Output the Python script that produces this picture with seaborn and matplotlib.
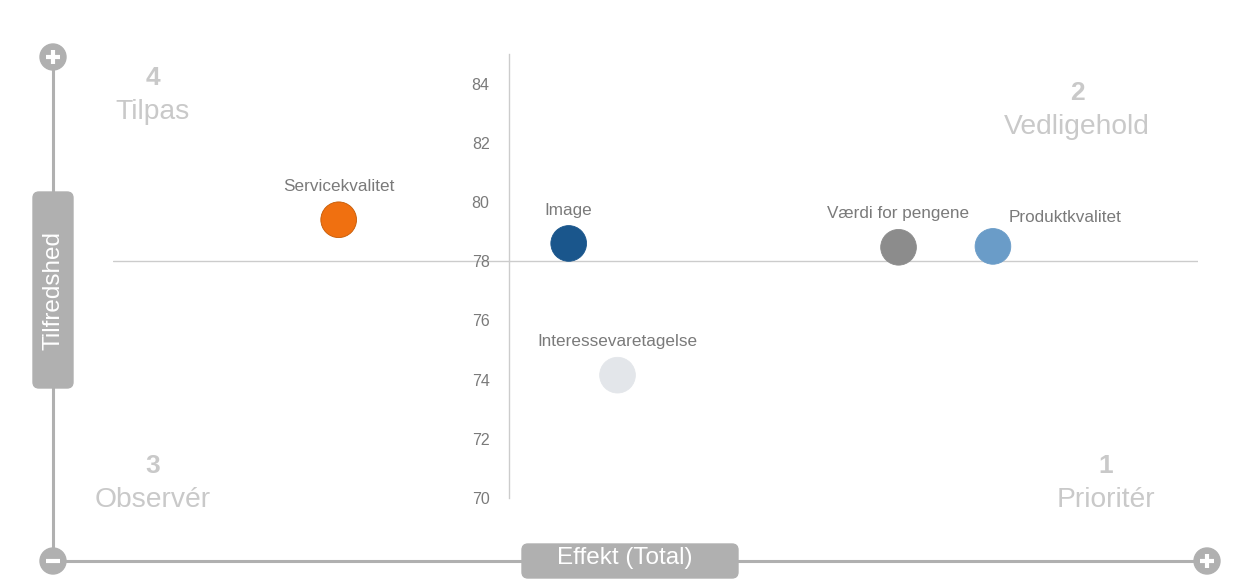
#!/usr/bin/env python3

import pandas
import seaborn as sns
import matplotlib.pyplot as plt
from matplotlib.patches import FancyBboxPatch, Circle

# Drivers, effect (arbitrary scale) and satisfaction
drivers = ["Servicekvalitet", "Image", "Interessevaretagelse", "Værdi for pengene", "Produktkvalitet"]
effect = [2.08, 4.20, 4.65, 7.24, 8.11]
satisfaction = [79.4, 78.6, 74.15, 78.47, 78.5]
colors = ["#f07010", "#1a568c", "#e3e6ea", "#8c8c8c", "#6a9cc8"]

# Quadrant cross point and axis ranges
effect_cross = 3.65
satisfaction_cross = 78
effect_range = (0, 10)
satisfaction_range = (70, 85)
yticks = [70, 72, 74, 76, 78, 80, 82, 84]

quadrants = [("4", "Tilpas"), ("2", "Vedligehold"), ("3", "Observér"), ("1", "Prioritér")]

W, H = 1254, 583


def main():
    sns.set_style("white")
    plt.rcParams["font.family"] = ["Liberation Sans", "DejaVu Sans"]

    df = pandas.DataFrame({"driver": drivers, "effect": effect, "satisfaction": satisfaction})
    palette = dict(zip(drivers, colors))

    fig = plt.figure(figsize=(W / 100, H / 100), dpi=100)

    # Overlay in pixel space for the decorative frame
    deco = fig.add_axes([0, 0, 1, 1])
    deco.set_xlim(0, W)
    deco.set_ylim(H, 0)
    deco.axis("off")
    grey = "#b0b0b0"
    deco.plot([53, 53], [57, 561], color=grey, lw=2.2, zorder=1)
    deco.plot([53, 1207], [561, 561], color=grey, lw=2.2, zorder=1)
    for cx, cy, sign in [(53, 57, "+"), (53, 561, "-"), (1207, 561, "+")]:
        deco.add_patch(Circle((cx, cy), 13, color=grey, zorder=2))
        deco.plot([cx - 7, cx + 7], [cy, cy], color="white", lw=3, solid_capstyle="butt", zorder=3)
        if sign == "+":
            deco.plot([cx, cx], [cy - 7, cy + 7], color="white", lw=3, solid_capstyle="butt", zorder=3)
    deco.add_patch(FancyBboxPatch((33, 192), 40, 196, boxstyle="round,pad=0,rounding_size=6",
                                  color=grey, zorder=2))
    deco.text(53, 290, "Tilfredshed", rotation=90, ha="center", va="center", color="white",
              fontsize=17.5, zorder=3)
    deco.add_patch(FancyBboxPatch((522, 544), 216, 34, boxstyle="round,pad=0,rounding_size=6",
                                  color=grey, zorder=2))
    deco.text(625, 558, "Effekt (Total)", ha="center", va="center", color="white",
              fontsize=17.5, zorder=3)

    qpos = [(153, 78), (1077, 93), (153, 466), (1106, 466)]
    for (num, name), (qx, qy) in zip(quadrants, qpos):
        deco.text(qx, qy, num, ha="center", va="center", color="#c9c9c9", fontsize=19,
                  fontweight="bold")
        deco.text(qx, qy + 34, name, ha="center", va="center", color="#c9c9c9", fontsize=20.3)

    # Main chart
    ax = fig.add_axes([113 / W, 85 / H, 1085 / W, 444 / H])
    ax.patch.set_alpha(0)
    ax.axhline(satisfaction_cross, color="#cccccc", lw=1, zorder=0)
    sns.scatterplot(data=df, x="effect", y="satisfaction", hue="driver", palette=palette,
                    s=660, legend=False, ax=ax, linewidth=0.6, edgecolor="face", zorder=3)
    ax.collections[0].set_edgecolor(["#c55a05", "#1a568c", "#e3e6ea", "#8c8c8c", "#6a9cc8"])

    offsets = {"Produktkvalitet": (52, 21)}
    for d, x, y in zip(drivers, effect, satisfaction):
        dx, dy = offsets.get(d, (0, 24))
        ax.annotate(d, (x, y), xytext=(dx, dy), textcoords="offset points", ha="center",
                    va="center", color="#7a7a7a", fontsize=12.3)

    ax.set_xlim(*effect_range)
    ax.set_ylim(*satisfaction_range)
    ax.set_yticks(yticks)
    ax.set_xticks([])
    ax.set_xlabel("")
    ax.set_ylabel("")
    for s in ["top", "right", "bottom"]:
        ax.spines[s].set_visible(False)
    ax.spines["left"].set_position(("data", effect_cross))
    ax.spines["left"].set_color("#cccccc")
    ax.spines["left"].set_linewidth(1)
    ax.tick_params(axis="y", length=0, pad=14, labelcolor="#7a7a7a", labelsize=11.5)

    fig.savefig("out.png", dpi=100)


if __name__ == "__main__":
    main()
